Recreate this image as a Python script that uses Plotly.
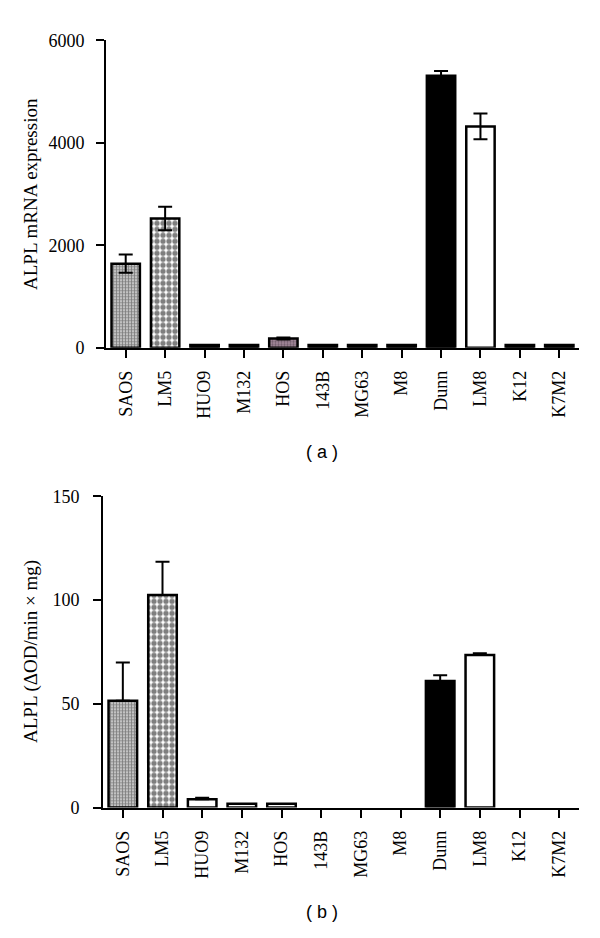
import plotly.graph_objects as go

categories = ["SAOS", "LM5", "HUO9", "M132", "HOS", "143B", "MG63", "M8", "Dunn", "LM8", "K12", "K7M2"]

# Panel (a): ALPL mRNA expression
mrna_values = [1640, 2520, 50, 50, 180, 50, 50, 50, 5310, 4320, 50, 50]
mrna_errors = [180, 230, 0, 0, 20, 0, 0, 0, 90, 250, 0, 0]

# Panel (b): ALPL activity (ΔOD/min × mg)
act_values = [51.5, 102.5, 4.0, 1.9, 1.9, 0, 0, 0, 61.0, 73.6, 0, 0]
act_errors = [18.5, 16.0, 0.8, 0, 0, 0, 0, 0, 2.8, 0.8, 0, 0]

y_ticks_a = [0, 2000, 4000, 6000]
y_ticks_b = [0, 50, 100, 150]

title_a = "ALPL mRNA expression"
title_b = "ALPL (ΔOD/min × mg)"
caption_a = "( a )"
caption_b = "( b )"

# fill styles per bar: (pattern shape, fg colour, bg colour, size, solidity)
FINE = (".", "#000000", "#ffffff", 3, 0.7)
COARSE = (".", "#000000", "#ffffff", 6, 0.62)
BLACK = ("", "#000000", "#000000", 4, 0.3)
WHITE = ("", "#ffffff", "#ffffff", 4, 0.3)
MAUVE = (".", "#3e2e3c", "#a58a9c", 3, 0.45)

styles_a = [FINE, COARSE, BLACK, BLACK, MAUVE, BLACK, BLACK, BLACK, BLACK, WHITE, BLACK, BLACK]
styles_b = [FINE, COARSE, WHITE, WHITE, WHITE, WHITE, WHITE, WHITE, BLACK, WHITE, WHITE, WHITE]

serif = "Liberation Serif"
sans = "Liberation Sans"

fig = go.Figure()


def add_panel(values, errors, styles, xa, ya, symmetric):
    for cat, val, err, st in zip(categories, values, errors, styles):
        shape, fg, bg, size, sol = st
        err_kw = dict(type="data", array=[err], color="black", thickness=2, width=7,
                      visible=err > 0)
        if symmetric:
            err_kw["symmetric"] = True
        else:
            err_kw["symmetric"] = False
            err_kw["arrayminus"] = [0]
        fig.add_trace(go.Bar(
            x=[cat], y=[val], xaxis=xa, yaxis=ya, width=0.72,
            marker=dict(color=bg, line=dict(color="black", width=2.5 if val > 0 else 0),
                        pattern=dict(shape=shape, fgcolor=fg, bgcolor=bg, size=size,
                                     solidity=sol, fillmode="overlay")),
            error_y=err_kw,
            showlegend=False, name=cat, hoverinfo="skip",
        ))


add_panel(mrna_values, mrna_errors, styles_a, "x", "y", True)
add_panel(act_values, act_errors, styles_b, "x2", "y2", False)

axis_common = dict(showline=True, linecolor="black", linewidth=2, ticks="outside",
                   ticklen=8, tickwidth=2, tickcolor="black", showgrid=False,
                   zeroline=False, tickfont=dict(family=serif, size=18, color="black"))

H = 938.0
W = 600.0

fig.update_layout(
    width=600, height=938,
    margin=dict(l=0, r=0, t=0, b=0),
    paper_bgcolor="white", plot_bgcolor="white",
    barmode="overlay",
    xaxis=dict(domain=[106 / W, 579 / W], anchor="y", type="category",
               categoryorder="array", categoryarray=categories,
               range=[-0.5, 11.5], tickangle=-90, ticklabelstandoff=6, **axis_common),
    yaxis=dict(domain=[(H - 345) / H, (H - 31) / H], anchor="x",
               range=[0, 6000], tickvals=y_ticks_a, ticktext=[str(v) for v in y_ticks_a],
               ticklabelstandoff=8, **axis_common),
    xaxis2=dict(domain=[103 / W, 579 / W], anchor="y2", type="category",
                categoryorder="array", categoryarray=categories,
                range=[-0.5, 11.5], tickangle=-90, ticklabelstandoff=6, **axis_common),
    yaxis2=dict(domain=[(H - 815) / H, (H - 497) / H], anchor="x2",
                range=[0, 150], tickvals=y_ticks_b, ticktext=[str(v) for v in y_ticks_b],
                ticklabelstandoff=10, **axis_common),
    annotations=[
        dict(text=title_a, xref="paper", yref="paper", x=31 / W, y=(H - 188) / H,
             textangle=-90, showarrow=False, xanchor="center", yanchor="middle",
             font=dict(family=serif, size=19, color="black")),
        dict(text=title_b, xref="paper", yref="paper", x=31 / W, y=(H - 656) / H,
             textangle=-90, showarrow=False, xanchor="center", yanchor="middle",
             font=dict(family=serif, size=19, color="black")),
        dict(text=caption_a, xref="paper", yref="paper", x=322 / W, y=(H - 452) / H,
             showarrow=False, xanchor="center", yanchor="middle",
             font=dict(family=sans, size=18, color="black")),
        dict(text=caption_b, xref="paper", yref="paper", x=322 / W, y=(H - 922) / H,
             showarrow=False, xanchor="center", yanchor="middle",
             font=dict(family=sans, size=18, color="black")),
    ],
)

fig.write_html("out.html", config={"displayModeBar": False},
               post_script="document.body.style.margin='0';")
